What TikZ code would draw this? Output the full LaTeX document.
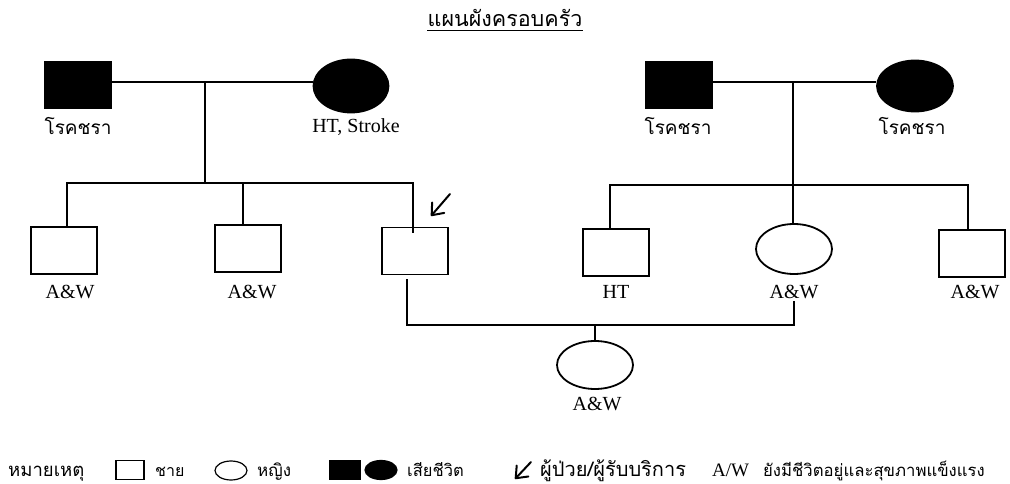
\documentclass[tikz,border=0pt]{standalone}
\usepackage{fontspec}
\setmainfont{Liberation Serif}
\newfontfamily\thai[Script=Thai]{Loma}
\usetikzlibrary{arrows.meta,shapes.geometric}
\tikzset{
  male/.style={draw, rectangle, line width=1.8, minimum width=66, minimum height=47, inner sep=0},
  female/.style={draw, ellipse, line width=1.8, minimum width=76, minimum height=50, inner sep=0},
  dead/.style={fill=black},
  lbl/.style={anchor=base, inner sep=0, font=\fontsize{20}{22}\selectfont},
  tlbl/.style={anchor=base, inner sep=0, font=\thai\fontsize{19}{22}\selectfont},
  keytxt/.style={anchor=base west, inner sep=0, font=\thai\fontsize{#1}{20}\selectfont},
  link/.style={line width=1.8},
  pointer/.style={line width=2, line cap=round, -{Straight Barb[length=10pt, width=16pt, line width=2, round]}},
  keybox/.style={draw, rectangle, line width=1.2, minimum width=28, minimum height=19, inner sep=0},
  keyoval/.style={draw, ellipse, line width=1.2, minimum width=32, minimum height=19, inner sep=0},
}
\begin{document}
\begin{tikzpicture}[x=1pt, y=-1pt]
\useasboundingbox[fill=white] (0,0) rectangle (1010,484);

% title
\node[anchor=base, inner sep=0, font=\thai\fontsize{21.5}{24}\selectfont] (title) at (505,27) {แผนผังครอบครัว};
\draw[line width=1] ([yshift=-3.5pt]title.base west) -- ([yshift=-3.5pt]title.base east);

% paternal grandparents
\node[male, dead] (gf1) at (78,85) {};
\node[female, dead, minimum width=75, minimum height=53] (gm1) at (351,86) {};
\node[tlbl] (gf1l) at (78,135) {โรคชรา};
\node[lbl] (gm1l) at (356,133) {HT, Stroke};
\draw[link] (gf1.east |- 0,82) -- (gm1.west |- 0,82);
\coordinate (m1) at (205,82);
\coordinate (s1) at (205,183);
\draw[link] (m1) -- (s1);

% maternal grandparents
\node[male, dead] (gf2) at (679,85) {};
\node[female, dead, minimum height=51] (gm2) at (915,86) {};
\node[tlbl] (gf2l) at (678,135) {โรคชรา};
\node[tlbl] (gm2l) at (912,135) {โรคชรา};
\draw[link] (gf2.east |- 0,82) -- (gm2.west |- 0,82);
\coordinate (m2) at (793,82);
\coordinate (s2) at (793,185);
\draw[link] (m2) -- (s2);

% father's siblings
\node[male] (c1) at (64,250.5) {};
\node[male] (c2) at (248,248.5) {};
\node[male] (c3) at (415,251) {};
\node[lbl] (c1l) at (70,298) {A\&W};
\node[lbl] (c2l) at (252,298) {A\&W};
\coordinate (j1) at (67,183);
\coordinate (j2) at (243,183);
\coordinate (j3) at (413,183);
\draw[link] (j1 |- c1.north) -- (j1) -- (j3) -- ([yshift=-6pt]j3 |- c3.north);
\draw[link] (j2) -- (j2 |- c2.north);
\coordinate (pa) at (450,194);
\coordinate (pb) at (431,216);
\draw[pointer] (pa) -- (pb);

% mother's siblings
\node[male] (d1) at (616,252.5) {};
\node[female] (d2) at (794,249) {};
\node[male] (d3) at (972,253.5) {};
\node[lbl] (d1l) at (616,298) {HT};
\node[lbl] (d2l) at (794,298) {A\&W};
\node[lbl] (d3l) at (975,298) {A\&W};
\coordinate (k1) at (610,185);
\coordinate (k3) at (968,185);
\draw[link] (k1 |- d1.north) -- (k1) -- (k3) -- (k3 |- d3.north);
\draw[link] (s2) -- (s2 |- d2.north);

% couple and child
\node[female, minimum height=48] (ch) at (595,365) {};
\node[lbl] (chl) at (597,410) {A\&W};
\coordinate (u1) at (407,325);
\coordinate (u2) at (794,325);
\coordinate (u0) at (595,325);
\draw[link] ([yshift=-4pt]u1 |- c3.south) -- (u1) -- (u2) -- ([yshift=-3pt]u2 |- d2l.base);
\draw[link] (u0) -- (u0 |- ch.north);

% key
\node[keytxt=18.5] (k0) at (8,476) {หมายเหตุ};
\node[keybox] (kb) at (130,470) {};
\node[keytxt=16] (kbl) at (155,476) {ชาย};
\node[keyoval] (ko) at (231,470.5) {};
\node[keytxt=17] (kol) at (257,476) {หญิง};
\node[keybox, fill=black, minimum width=30] (kd1) at (345,470) {};
\node[keyoval, fill=black] (kd2) at (381,470) {};
\node[keytxt=16.5] (kdl) at (407,476) {เสียชีวิต};
\coordinate (ka) at (531,462);
\coordinate (kz) at (515,479);
\draw[pointer] (ka) -- (kz);
\node[keytxt=20] (kpl) at (540,476) {ผู้ป่วย/ผู้รับบริการ};
\node[lbl, anchor=base west, font=\fontsize{19}{22}\selectfont] (kaw) at (712,476) {A/W};
\node[keytxt=16.7] (kawl) at (763,476) {ยังมีชีวิตอยู่และสุขภาพแข็งแรง};
\end{tikzpicture}
\end{document}
